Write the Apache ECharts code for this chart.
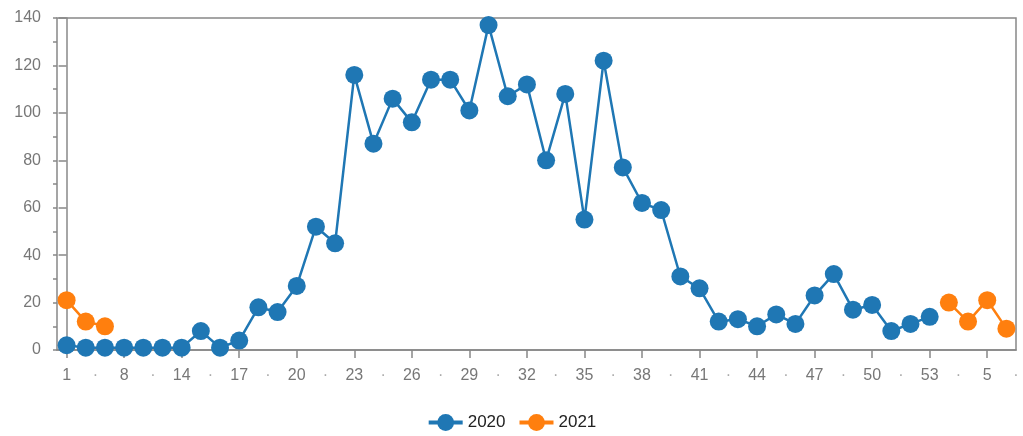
<!DOCTYPE html>
<html>
<head>
<meta charset="utf-8">
<script src="https://cdn.jsdelivr.net/npm/echarts@6/dist/echarts.min.js"></script>
<style>html,body{margin:0;padding:0;background:#fff}#c{width:1023px;height:436px}</style>
</head>
<body>
<div id="c"></div>
<script>
// Week categories (x axis), as shown on the chart
var weeks = ["1","2","7","8","10","12","14","15","16",
  "17","18","19","20","21","22","23","24","25","26","27","28","29","30",
  "31","32","33","34","35","36","37","38","39","40","41","42","43","44",
  "45","46","47","48","49","50","51","52","53",
  "3","4","5","6"];
var series2020 = [2,1,1,1,1,1,1,8,1,
  4,18,16,27,52,45,116,87,106,96,114,114,101,137,
  107,112,80,108,55,122,77,62,59,31,26,12,13,10,
  15,11,23,32,17,19,8,11,14,
  null,null,null,null];
var series2021 = [21,12,10,null,null,null,null,null,null,
  null,null,null,null,null,null,null,null,null,null,null,null,null,null,
  null,null,null,null,null,null,null,null,null,null,null,null,null,null,
  null,null,null,null,null,null,null,null,null,
  20,12,21,9];
var seriesNames = ["2020","2021"];
var yTicks = {min:0, max:140, interval:20, minorInterval:10};

var dotPositions = [];
for (var k = 1.5; k < weeks.length; k += 3) dotPositions.push(k);

var chart = echarts.init(document.getElementById('c'));
var axisCol = '#888';
var labCol = '#777';
chart.setOption({
  animation:false,
  textStyle:{fontFamily:'Liberation Sans, Arial, sans-serif'},
  grid:{left:57,right:7,top:18,bottom:86,show:true,borderColor:axisCol,borderWidth:1.5},
  legend:{
    data:seriesNames, bottom:0, left:'center', itemWidth:34, itemHeight:21, itemGap:12,
    lineStyle:{width:4},
    textStyle:{fontSize:17,color:'#222',fontFamily:'Liberation Sans, Arial, sans-serif'}
  },
  xAxis:[{
    type:'category', data:weeks, boundaryGap:true,
    axisLine:{lineStyle:{color:axisCol,width:1.5}},
    axisTick:{show:true,interval:2,alignWithLabel:true,length:8,lineStyle:{color:axisCol,width:1.5}},
    axisLabel:{interval:2,color:labCol,fontSize:16,margin:18},
    splitLine:{show:false}
  },{
    type:'value', min:-0.5, max:weeks.length-0.5, position:'bottom',
    axisLine:{show:false}, axisTick:{show:false}, splitLine:{show:false},
    axisLabel:{show:true,customValues:dotPositions,formatter:function(){return '·';},color:'#aaa',fontSize:16,margin:18}
  }],
  yAxis:[{
    type:'value', min:yTicks.min, max:yTicks.max, interval:yTicks.interval, position:'left',
    axisLine:{show:true,lineStyle:{color:axisCol,width:1.5}},
    axisTick:{show:true,length:8,lineStyle:{color:axisCol,width:1.5}},
    axisLabel:{color:labCol,fontSize:16,margin:16},
    splitLine:{show:false}
  },{
    type:'value', min:yTicks.min, max:yTicks.max, interval:yTicks.minorInterval, position:'left',
    axisLine:{show:false},
    axisTick:{show:true,length:4,lineStyle:{color:axisCol,width:1.5}},
    axisLabel:{show:false},
    splitLine:{show:false}
  }],
  series:[{
    name:seriesNames[0], type:'line', data:series2020, xAxisIndex:0, yAxisIndex:0,
    symbol:'circle', symbolSize:18, showAllSymbol:true, connectNulls:false,
    itemStyle:{color:'#1f77b4'}, lineStyle:{color:'#1f77b4',width:2.5}
  },{
    name:seriesNames[1], type:'line', data:series2021, xAxisIndex:0, yAxisIndex:0,
    symbol:'circle', symbolSize:18, showAllSymbol:true, connectNulls:false,
    itemStyle:{color:'#ff7f0e'}, lineStyle:{color:'#ff7f0e',width:2.5}
  }]
});
</script>
</body>
</html>
